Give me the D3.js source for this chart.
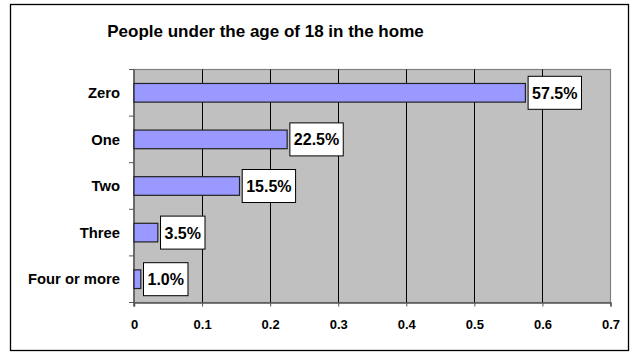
<!DOCTYPE html>
<html><head><meta charset="utf-8">
<script src="https://cdn.jsdelivr.net/npm/d3@7"></script>
<style>
html,body{margin:0;padding:0;background:#fff;}
svg{display:block;font-family:Arial,"Liberation Sans",sans-serif;}
</style></head>
<body>
<svg id="c" width="634" height="352"></svg>
<script>
const categories = ["Zero", "One", "Two", "Three", "Four or more"];
const values = [0.575, 0.225, 0.155, 0.035, 0.010];
const valueLabels = ["57.5%", "22.5%", "15.5%", "3.5%", "1.0%"];
const tickValues = [0, 0.1, 0.2, 0.3, 0.4, 0.5, 0.6, 0.7];
const title = "People under the age of 18 in the home";

const svg = d3.select("#c");
const m = {left: 134, right: 610.5, top: 69.5, bottom: 302.5};

// outer border
svg.append("rect").attr("x", 10.5).attr("y", 4.5).attr("width", 618).attr("height", 346)
  .attr("fill", "#fff").attr("stroke", "#000").attr("stroke-width", 1.3);

svg.append("text").attr("x", 265.5).attr("y", 37).attr("text-anchor", "middle")
  .attr("font-size", 17).attr("font-weight", "bold").text(title);

const x = d3.scaleLinear().domain([0, 0.7]).range([m.left, m.right]);
const y = d3.scaleBand().domain(categories).range([m.top, m.bottom]).paddingInner(0.6).paddingOuter(0.3);
const yb = d3.scaleBand().domain(categories).range([m.top, m.bottom]);

// plot background
svg.append("rect").attr("x", m.left).attr("y", m.top).attr("width", m.right - m.left).attr("height", m.bottom - m.top)
  .attr("fill", "#C0C0C0").attr("stroke", "#808080").attr("stroke-width", 1.2);

// gridlines
svg.append("g").selectAll("line").data(tickValues.filter(t => t > 0 && t < 0.7)).join("line")
  .attr("x1", d => Math.round(x(d)) + 0.5).attr("x2", d => Math.round(x(d)) + 0.5)
  .attr("y1", m.top).attr("y2", m.bottom).attr("stroke", "#000").attr("stroke-width", 1);

// x axis
const xa = svg.append("g").attr("transform", `translate(0,${m.bottom})`)
  .call(d3.axisBottom(x).tickValues(tickValues).tickFormat(d => d === 0 ? "0" : d3.format(".1f")(d)).tickSize(4).tickPadding(13));
xa.select(".domain").attr("stroke", "#555").attr("stroke-width", 1.5);
xa.selectAll(".tick line").attr("stroke", "#555");
xa.selectAll("text").attr("font-size", 13).attr("font-weight", "bold").attr("fill", "#000")
  .attr("font-family", "Arial,'Liberation Sans',sans-serif");

// y axis ticks at band boundaries
const bounds = categories.map(c => yb(c)).concat([m.bottom]);
svg.append("g").selectAll("line").data(bounds).join("line")
  .attr("x1", m.left - 5).attr("x2", m.left).attr("y1", d => d).attr("y2", d => d)
  .attr("stroke", "#555").attr("stroke-width", 1);
svg.append("line").attr("x1", m.left).attr("x2", m.left).attr("y1", m.top).attr("y2", m.bottom + 4)
  .attr("stroke", "#555").attr("stroke-width", 1.5);

// category labels
svg.append("g").selectAll("text").data(categories).join("text")
  .attr("x", 120).attr("y", d => yb(d) + yb.bandwidth() / 2 + 5.2)
  .attr("text-anchor", "end").attr("font-size", 14.8).attr("font-weight", "bold").text(d => d);

// bars
svg.append("g").selectAll("rect").data(values).join("rect")
  .attr("x", m.left).attr("y", (d, i) => y(categories[i]))
  .attr("width", d => x(d) - m.left).attr("height", y.bandwidth())
  .attr("fill", "#9999FF").attr("stroke", "#222").attr("stroke-width", 1.2);

// value labels with boxes
const lg = svg.append("g").selectAll("g").data(values).join("g")
  .attr("transform", (d, i) => `translate(${x(d) + 2.7},${yb(categories[i]) + yb.bandwidth() / 2})`);
lg.each(function(d, i) {
  const g = d3.select(this);
  const t = g.append("text").attr("x", 4).attr("y", 6).attr("font-size", 16).attr("font-weight", "bold").text(valueLabels[i]);
  const w = t.node().getComputedTextLength();
  g.insert("rect", "text").attr("x", 0).attr("y", -16.5).attr("width", w + 8).attr("height", 33)
    .attr("fill", "#fff").attr("stroke", "#000").attr("stroke-width", 1);
});
</script>
</body></html>
